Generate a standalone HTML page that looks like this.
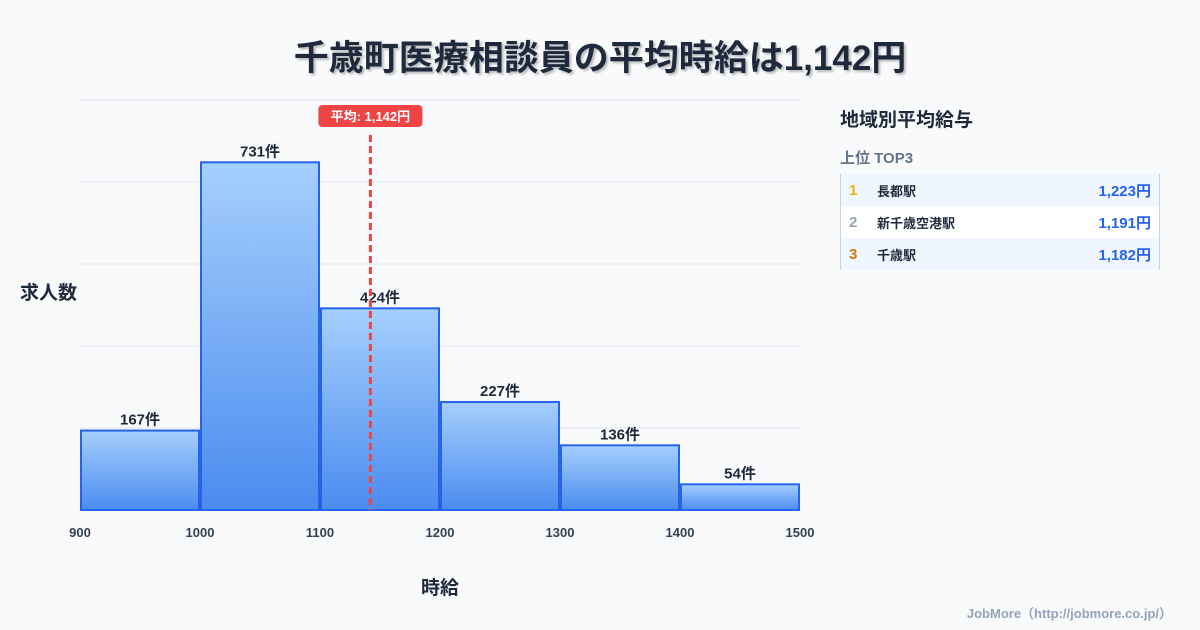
<!DOCTYPE html>
<html><head><meta charset="utf-8"><style>
body{margin:0;width:1200px;height:630px;background:#f8fafc;font-family:"Liberation Sans","Noto Sans CJK JP",sans-serif;overflow:hidden;position:relative}
.t{position:absolute;left:0;width:1200px;top:30px;text-align:center;font-size:35px;font-weight:bold;color:#1e293b;text-shadow:2px 2px 2px rgba(0,0,0,.25)}
.panel{position:absolute;left:840px;top:100px;width:320px}
.ph{font-size:19px;font-weight:bold;color:#1e293b;margin-top:5px}
.ps{font-size:15px;font-weight:bold;color:#64748b;margin-top:15px}
.rows{margin-top:6px;border-left:1px solid #cbd5e1;border-right:1px solid #cbd5e1}
.r{height:32px;display:flex;align-items:center;font-size:13px;font-weight:bold;color:#1e293b;background:#eff6ff}
.r.w{background:#fff}
.r .n{width:28px;padding-left:8px;font-size:15px}
.r .v{margin-left:auto;padding-right:8px;color:#2563eb;font-size:15px}
.foot{position:absolute;right:28px;top:603px;font-size:13px;font-weight:bold;color:#94a3b8}
</style></head><body>
<div class="t">千歳町医療相談員の平均時給は1,142円</div>
<svg id="c" width="1200" height="630" style="position:absolute;left:0;top:0"></svg>
<div class="panel">
<div class="ph">地域別平均給与</div>
<div class="ps">上位 TOP3</div>
<div class="rows">
<div class="r"><span class="n" style="color:#eab308">1</span><span>長都駅</span><span class="v">1,223円</span></div>
<div class="r w"><span class="n" style="color:#94a3b8">2</span><span>新千歳空港駅</span><span class="v">1,191円</span></div>
<div class="r"><span class="n" style="color:#d97706">3</span><span>千歳駅</span><span class="v">1,182円</span></div>
</div></div>
<div class="foot">JobMore（http://jobmore.co.jp/）</div>
<script>
const binStarts=[900,1000,1100,1200,1300,1400];
const counts=[167,731,424,227,136,54];
const xTicks=[900,1000,1100,1200,1300,1400,1500];
const meanValue=1142;
const svg=document.getElementById('c');const NS='http://www.w3.org/2000/svg';
const X0=80,X1=800,Y0=510,Y1=100,xmin=900,xmax=1500,ymax=862;
const xs=v=>X0+(v-xmin)/(xmax-xmin)*(X1-X0);
const ys=v=>Y0-v/ymax*(Y0-Y1);
function mk(t,a,p){const e=document.createElementNS(NS,t);for(const k in a)e.setAttribute(k,a[k]);(p||svg).appendChild(e);return e;}
const d=mk('defs',{});const g=mk('linearGradient',{id:'bg',x1:0,y1:0,x2:0,y2:1},d);
mk('stop',{offset:0,'stop-color':'#a5cffc'},g);mk('stop',{offset:1,'stop-color':'#4b8cf0'},g);
for(let i=0;i<=5;i++){const y=Y0-i*(Y0-Y1)/5;const l=mk('line',{x1:X0,x2:X1,y1:y,y2:y,stroke:'#e2e8f0','stroke-width':1});

}
binStarts.forEach((b,i)=>{const x=xs(b)+1,w=xs(b+100)-xs(b)-2,y=ys(counts[i]);
const r=mk('rect',{x:x,y:y,width:w,height:Y0-y,fill:'url(#bg)',stroke:'#2563eb','stroke-width':2});


const t=mk('text',{x:x+w/2,y:y-6,'text-anchor':'middle','font-size':15,'font-weight':'bold',fill:'#1e293b'});t.textContent=counts[i]+'件';

});
xTicks.forEach(v=>{const t=mk('text',{x:xs(v),y:537,'text-anchor':'middle','font-size':13,'font-weight':'bold',fill:'#334155'});t.textContent=v;

});
const mx=xs(meanValue);
const ml=mk('line',{x1:mx,x2:mx,y1:135,y2:Y0,stroke:'#ef4444','stroke-width':3,'stroke-dasharray':'7,4'});


const lb=mk('rect',{x:mx-52,y:105,width:104,height:22,rx:4,fill:'#ef4444'});


const lt=mk('text',{x:mx,y:121,'text-anchor':'middle','font-size':13,'font-weight':'bold',fill:'#fff'});lt.textContent='平均: 1,142円';


const yt=mk('text',{x:20,y:299,'font-size':19,'font-weight':'bold',fill:'#1e293b'});yt.textContent='求人数';


const xt=mk('text',{x:440,y:594,'text-anchor':'middle','font-size':19,'font-weight':'bold',fill:'#1e293b'});xt.textContent='時給';


</script>
</body></html>
